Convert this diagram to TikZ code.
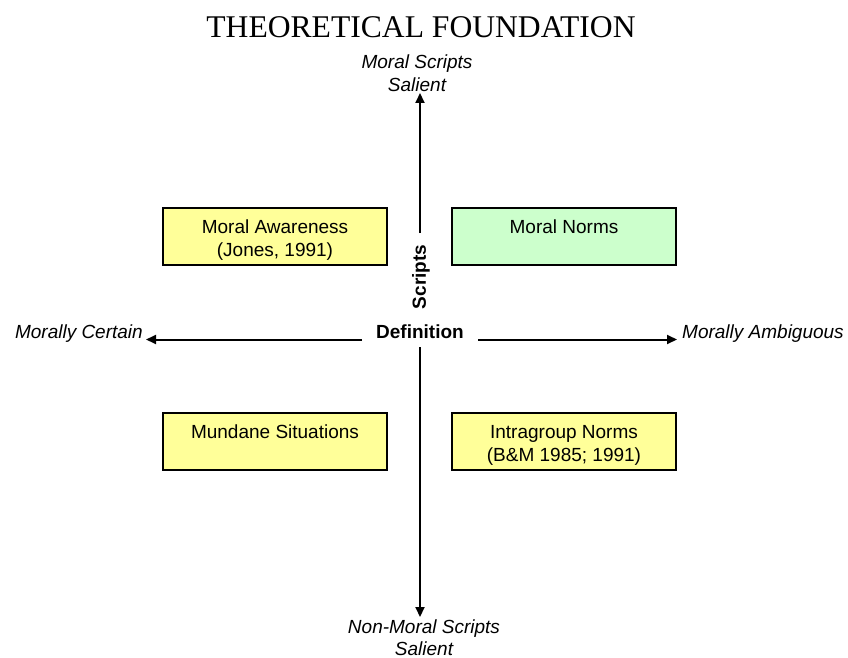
\documentclass[tikz,border=0pt]{standalone}
\usepackage{fontspec}
\setmainfont{Liberation Sans}
\newfontfamily\titlefont{Liberation Serif}
\usetikzlibrary{arrows.meta}
\definecolor{boxyellow}{HTML}{FFFF99}
\definecolor{boxgreen}{HTML}{CCFFCC}
\tikzset{
  box/.style={draw=black, line width=1.2pt, minimum width=224pt, minimum height=57pt, inner sep=0pt},
  txt/.style={anchor=base, inner sep=0pt, font=\fontsize{19}{23}\selectfont},
  itxt/.style={txt, font=\fontsize{19}{23}\selectfont\itshape},
  btxt/.style={txt, font=\fontsize{19}{23}\selectfont\bfseries},
  axis/.style={line width=2pt, -{Triangle[length=10pt,width=9pt]}}
}
\begin{document}
\begin{tikzpicture}[x=1pt,y=-1pt]
\useasboundingbox (0,0) rectangle (848,658);
% title
\node[anchor=base, inner sep=0pt, font=\titlefont\fontsize{31.6}{36}\selectfont] (title) at (421,38) {THEORETICAL FOUNDATION};
% boxes
\node[box, fill=boxyellow] (ma) at (275,236.5) {};
\node[box, fill=boxgreen]  (mn) at (564,236.5) {};
\node[box, fill=boxyellow] (ms) at (275,441.5) {};
\node[box, fill=boxyellow] (ig) at (564,441.5) {};
\node[txt] (ma1) at (275,233) {Moral Awareness};
\node[txt] (ma2) at (275,256) {(Jones, 1991)};
\node[txt] (mn1) at (564,233) {Moral Norms};
\node[txt] (ms1) at (275,438) {Mundane Situations};
\node[txt] (ig1) at (564,438) {Intragroup Norms};
\node[txt] (ig2) at (564,461) {(B\&M 1985; 1991)};
% axis labels
\node[itxt] (top1) at (417,69) {Moral Scripts};
\node[itxt] (top2) at (417,92) {Salient};
\node[itxt] (bot1) at (424,633) {Non-Moral Scripts};
\node[itxt] (bot2) at (424,655) {Salient};
\node[itxt, anchor=base east] (left) at (143,338) {Morally Certain};
\node[itxt, anchor=base west] (right) at (682,338) {Morally Ambiguous};
\node[btxt] (def) at (420,338) {Definition};
\node[btxt, anchor=center, rotate=90] (scr) at (421,277) {Scripts};
% axes
\coordinate (vu) at (420,233);
\coordinate (vut) at (420,93);
\coordinate (vd) at (420,347);
\coordinate (vdt) at (420,617);
\coordinate (hl) at (362,339.5);
\coordinate (hlt) at (146,339.5);
\coordinate (hr) at (478,339.5);
\coordinate (hrt) at (677,339.5);
\draw[axis] (vu) -- (vut);
\draw[axis] (vd) -- (vdt);
\draw[axis] (hl) -- (hlt);
\draw[axis] (hr) -- (hrt);
\end{tikzpicture}
\end{document}
